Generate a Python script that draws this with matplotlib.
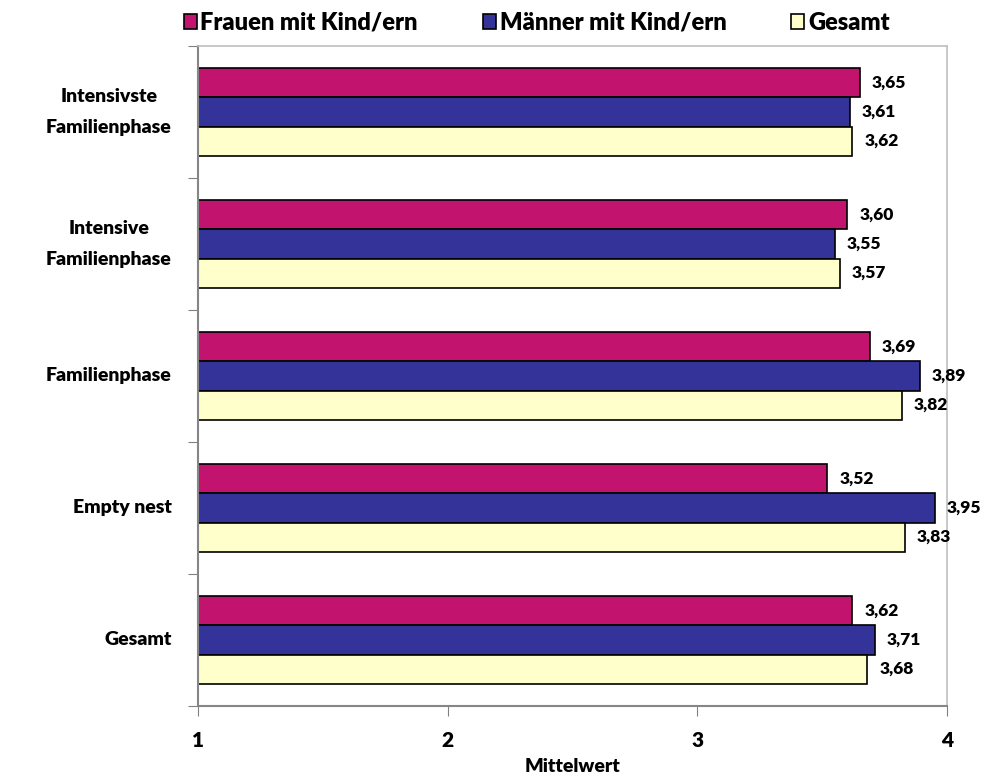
import matplotlib
matplotlib.use("Agg")
import matplotlib.pyplot as plt
import numpy as np

plt.rcParams['font.family'] = ['Lato', 'DejaVu Sans']
W = "heavy"

categories = ["Intensivste\nFamilienphase", "Intensive\nFamilienphase", "Familienphase", "Empty nest", "Gesamt"]
series_names = ["Frauen mit Kind/ern", "Männer mit Kind/ern", "Gesamt"]
frauen = [3.65, 3.60, 3.69, 3.52, 3.62]
maenner = [3.61, 3.55, 3.89, 3.95, 3.71]
gesamt = [3.62, 3.57, 3.82, 3.83, 3.68]
colors = ["#C2146F", "#333399", "#FFFFCC"]
xticks = [1, 2, 3, 4]

fig = plt.figure(figsize=(9.9, 7.82), dpi=100)
ax = fig.add_axes([0.2, 0.0972, 0.7566, 0.844])

y = np.arange(len(categories))
h = 0.22
for i, (vals, col, name) in enumerate(zip([frauen, maenner, gesamt], colors, series_names)):
    pos = y + (i - 1) * h
    ax.barh(pos, np.array(vals) - 1, left=1, height=h, color=col, edgecolor="black", linewidth=1.2, label=name)
    for p, v in zip(pos, vals):
        ax.annotate(f"{v:.2f}".replace(".", ","), xy=(v, p), xytext=(12, 0), textcoords="offset pixels",
                    va="center", ha="left", fontsize=12.5, fontweight=W)

ax.set_xlim(1, 4)
ax.set_ylim(4.5, -0.5)
ax.set_xticks(xticks)
ax.set_xticklabels([str(t) for t in xticks], fontsize=15, fontweight=W)
ax.tick_params(axis="x", direction="out", length=7, color="#808080", pad=11)
ax.set_yticks(np.arange(-0.5, len(categories) + 0.5, 1))
ax.set_yticklabels([])
ax.tick_params(axis="y", direction="out", length=7, color="#808080")
for yi, c in zip(y, categories):
    ax.text(-0.035, yi, c, transform=ax.get_yaxis_transform(), ha="right", va="center",
            fontsize=14, fontweight=W, multialignment="center", linespacing=1.95)
ax.set_xlabel("Mittelwert", fontsize=14, fontweight=W, labelpad=6)

for s in ["left", "bottom"]:
    ax.spines[s].set_color("#868686")
    ax.spines[s].set_linewidth(1.5)
for s in ["top", "right"]:
    ax.spines[s].set_color("#BFBFBF")
    ax.spines[s].set_linewidth(1.2)

leg = fig.legend(loc="upper center", bbox_to_anchor=(0.542, 1.012), ncol=3, frameon=False,
                 prop={"weight": W, "size": 17}, handlelength=0.56, handleheight=0.56,
                 handletextpad=0.15, columnspacing=2.75)

fig.savefig("out.png", dpi=100)
